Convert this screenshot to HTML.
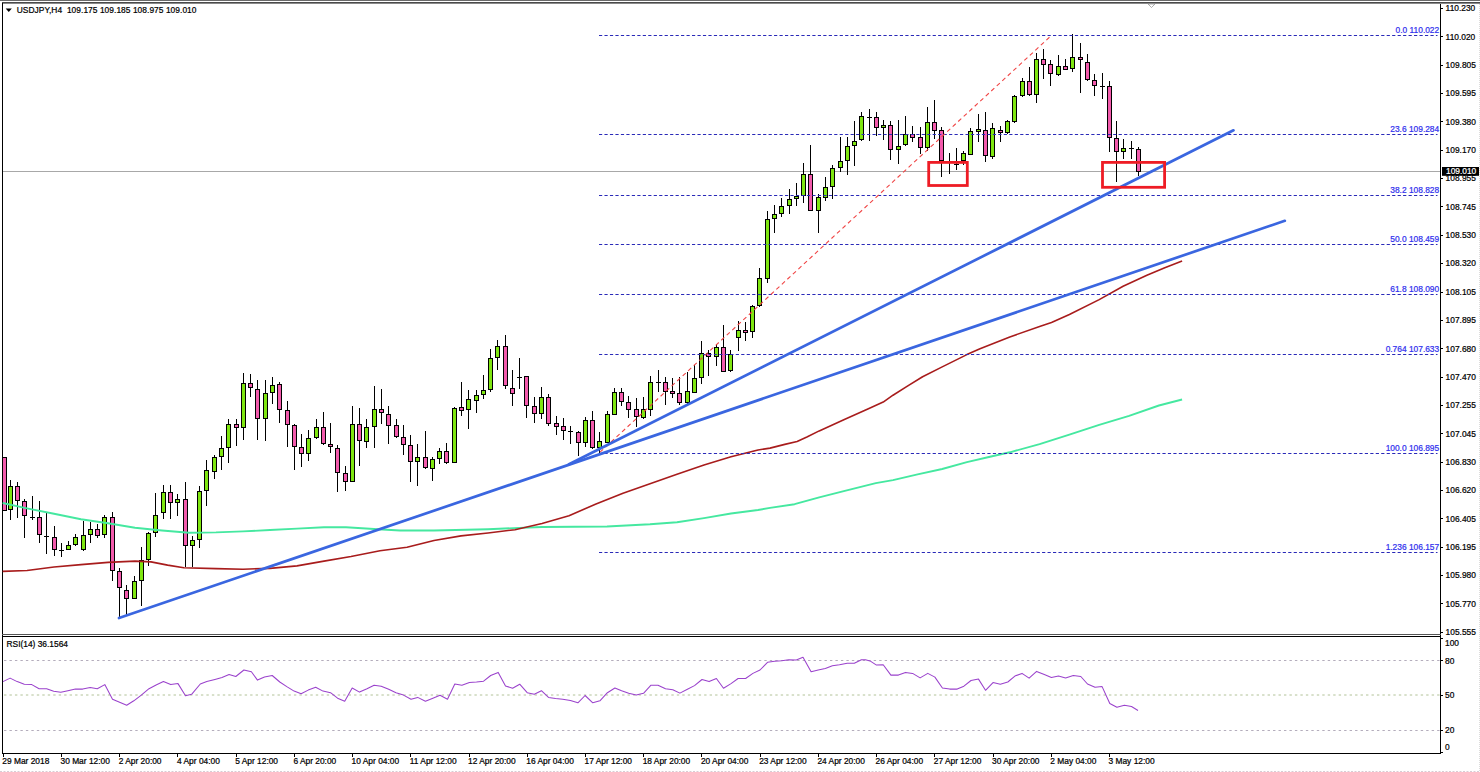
<!DOCTYPE html>
<html><head><meta charset="utf-8"><title>USDJPY H4</title>
<style>html,body{margin:0;padding:0;background:#fff;}body{width:1480px;height:772px;overflow:hidden;}svg{display:block;}text{font-family:"Liberation Sans",sans-serif;font-size:8.4px;stroke-width:0.22px;}</style>
</head><body>
<svg width="1480" height="772" viewBox="0 0 1480 772">
<rect x="0" y="0" width="1480" height="772" fill="#ffffff"/>
<g shape-rendering="crispEdges">
<rect x="0" y="0" width="1480" height="1" fill="#6a6a6a"/>
<rect x="2" y="2" width="1478" height="1" fill="#4a4a4a"/>
<rect x="2" y="3" width="1478" height="1" fill="#8a8a8a"/>
<rect x="2" y="3" width="1" height="751" fill="#000"/>
<rect x="1440" y="4" width="1" height="750" fill="#000"/>
<rect x="2" y="634" width="1439" height="1" fill="#555"/>
<rect x="2" y="636" width="1439" height="1" fill="#000"/>
<rect x="2" y="753" width="1439" height="1" fill="#000"/>
</g>
<line x1="0" y1="771.5" x2="1480" y2="771.5" stroke="#d8ccd4" stroke-width="1" stroke-dasharray="2 1.5"/>
<line x1="1479.5" y1="4" x2="1479.5" y2="772" stroke="#dcdcdc" stroke-width="1" stroke-dasharray="1 1"/>
<path d="M1148 4 L1155 4 L1151.5 7.5 Z" fill="none" stroke="#999" stroke-width="0.8"/>
<line x1="3" y1="171.5" x2="1440" y2="171.5" stroke="#a8a8a8" stroke-width="1" shape-rendering="crispEdges"/>
<g shape-rendering="crispEdges">
<rect x="3" y="457.0" width="3" height="54.1" fill="#F25AAC" stroke="none"/>
<rect x="5.5" y="457.0" width="1" height="54.1" fill="#000"/>
<rect x="3" y="457.0" width="3" height="1" fill="#000"/>
<rect x="3" y="510.1" width="3" height="1" fill="#000"/>
<rect x="10.0" y="480.3" width="1" height="40.1" fill="#000"/>
<rect x="8.5" y="486.0" width="4" height="23.7" fill="#7FE611" stroke="#000" stroke-width="1"/>
<rect x="17.0" y="482.2" width="1" height="35.5" fill="#000"/>
<rect x="15.5" y="486.0" width="4" height="14.9" fill="#F25AAC" stroke="#000" stroke-width="1"/>
<rect x="24.0" y="499.0" width="1" height="38.5" fill="#000"/>
<rect x="22.5" y="501.8" width="4" height="13.7" fill="#F25AAC" stroke="#000" stroke-width="1"/>
<rect x="32.0" y="495.9" width="1" height="24.5" fill="#000"/>
<rect x="30.0" y="516.7" width="5" height="1" fill="#000"/>
<rect x="39.0" y="501.3" width="1" height="41.3" fill="#000"/>
<rect x="37.5" y="517.0" width="4" height="17.0" fill="#F25AAC" stroke="#000" stroke-width="1"/>
<rect x="46.0" y="513.4" width="1" height="40.3" fill="#000"/>
<rect x="44.0" y="535.8" width="5" height="1" fill="#000"/>
<rect x="54.0" y="526.3" width="1" height="29.2" fill="#000"/>
<rect x="52.5" y="537.3" width="4" height="11.8" fill="#F25AAC" stroke="#000" stroke-width="1"/>
<rect x="61.0" y="543.3" width="1" height="13.3" fill="#000"/>
<rect x="59.0" y="549.8" width="5" height="1" fill="#000"/>
<rect x="68.0" y="541.4" width="1" height="8.9" fill="#000"/>
<rect x="66.5" y="545.0" width="4" height="4.8" fill="#7FE611" stroke="#000" stroke-width="1"/>
<rect x="75.0" y="534.0" width="1" height="12.4" fill="#000"/>
<rect x="73.5" y="537.3" width="4" height="6.7" fill="#7FE611" stroke="#000" stroke-width="1"/>
<rect x="83.0" y="521.1" width="1" height="29.6" fill="#000"/>
<rect x="81.5" y="535.6" width="4" height="14.2" fill="#7FE611" stroke="#000" stroke-width="1"/>
<rect x="90.0" y="521.8" width="1" height="21.0" fill="#000"/>
<rect x="88.5" y="529.8" width="4" height="4.8" fill="#7FE611" stroke="#000" stroke-width="1"/>
<rect x="97.0" y="523.5" width="1" height="14.5" fill="#000"/>
<rect x="95.5" y="529.8" width="4" height="5.3" fill="#F25AAC" stroke="#000" stroke-width="1"/>
<rect x="104.0" y="515.3" width="1" height="22.6" fill="#000"/>
<rect x="102.5" y="517.0" width="4" height="17.7" fill="#7FE611" stroke="#000" stroke-width="1"/>
<rect x="112.0" y="512.3" width="1" height="68.3" fill="#000"/>
<rect x="110.5" y="517.0" width="4" height="53.8" fill="#F25AAC" stroke="#000" stroke-width="1"/>
<rect x="119.0" y="568.3" width="1" height="49.2" fill="#000"/>
<rect x="117.5" y="571.8" width="4" height="15.8" fill="#F25AAC" stroke="#000" stroke-width="1"/>
<rect x="126.0" y="584.6" width="1" height="31.0" fill="#000"/>
<rect x="124.5" y="590.0" width="4" height="8.1" fill="#F25AAC" stroke="#000" stroke-width="1"/>
<rect x="134.0" y="576.4" width="1" height="22.9" fill="#000"/>
<rect x="132.5" y="581.8" width="4" height="16.3" fill="#7FE611" stroke="#000" stroke-width="1"/>
<rect x="141.0" y="546.8" width="1" height="59.0" fill="#000"/>
<rect x="139.5" y="560.8" width="4" height="20.0" fill="#7FE611" stroke="#000" stroke-width="1"/>
<rect x="148.0" y="532.1" width="1" height="33.4" fill="#000"/>
<rect x="146.5" y="533.8" width="4" height="25.4" fill="#7FE611" stroke="#000" stroke-width="1"/>
<rect x="155.0" y="493.1" width="1" height="43.6" fill="#000"/>
<rect x="153.5" y="515.1" width="4" height="17.7" fill="#7FE611" stroke="#000" stroke-width="1"/>
<rect x="163.0" y="485.1" width="1" height="34.0" fill="#000"/>
<rect x="161.5" y="492.9" width="4" height="19.7" fill="#7FE611" stroke="#000" stroke-width="1"/>
<rect x="170.0" y="485.1" width="1" height="34.0" fill="#000"/>
<rect x="168.5" y="492.9" width="4" height="9.9" fill="#F25AAC" stroke="#000" stroke-width="1"/>
<rect x="177.0" y="494.0" width="1" height="21.5" fill="#000"/>
<rect x="175.5" y="499.2" width="4" height="3.6" fill="#7FE611" stroke="#000" stroke-width="1"/>
<rect x="185.0" y="481.5" width="1" height="85.1" fill="#000"/>
<rect x="183.5" y="499.2" width="4" height="46.6" fill="#F25AAC" stroke="#000" stroke-width="1"/>
<rect x="192.0" y="535.9" width="1" height="30.7" fill="#000"/>
<rect x="190.5" y="540.8" width="4" height="5.0" fill="#7FE611" stroke="#000" stroke-width="1"/>
<rect x="199.0" y="485.6" width="1" height="62.5" fill="#000"/>
<rect x="197.5" y="491.8" width="4" height="47.9" fill="#7FE611" stroke="#000" stroke-width="1"/>
<rect x="206.0" y="460.1" width="1" height="45.4" fill="#000"/>
<rect x="204.5" y="470.1" width="4" height="20.8" fill="#7FE611" stroke="#000" stroke-width="1"/>
<rect x="214.0" y="455.2" width="1" height="23.7" fill="#000"/>
<rect x="212.5" y="457.6" width="4" height="13.4" fill="#7FE611" stroke="#000" stroke-width="1"/>
<rect x="221.0" y="436.1" width="1" height="33.4" fill="#000"/>
<rect x="219.5" y="448.9" width="4" height="7.7" fill="#7FE611" stroke="#000" stroke-width="1"/>
<rect x="228.0" y="418.5" width="1" height="44.0" fill="#000"/>
<rect x="226.5" y="424.9" width="4" height="22.9" fill="#7FE611" stroke="#000" stroke-width="1"/>
<rect x="236.0" y="419.3" width="1" height="26.4" fill="#000"/>
<rect x="234.5" y="424.9" width="4" height="2.5" fill="#F25AAC" stroke="#000" stroke-width="1"/>
<rect x="243.0" y="372.8" width="1" height="66.9" fill="#000"/>
<rect x="241.5" y="383.6" width="4" height="43.9" fill="#7FE611" stroke="#000" stroke-width="1"/>
<rect x="250.0" y="374.1" width="1" height="23.1" fill="#000"/>
<rect x="248.5" y="383.1" width="4" height="4.4" fill="#F25AAC" stroke="#000" stroke-width="1"/>
<rect x="257.0" y="380.4" width="1" height="59.3" fill="#000"/>
<rect x="255.5" y="389.0" width="4" height="29.5" fill="#F25AAC" stroke="#000" stroke-width="1"/>
<rect x="265.0" y="380.4" width="1" height="60.4" fill="#000"/>
<rect x="263.5" y="393.7" width="4" height="24.8" fill="#7FE611" stroke="#000" stroke-width="1"/>
<rect x="272.0" y="377.1" width="1" height="26.4" fill="#000"/>
<rect x="270.5" y="385.0" width="4" height="7.7" fill="#7FE611" stroke="#000" stroke-width="1"/>
<rect x="279.0" y="382.3" width="1" height="40.2" fill="#000"/>
<rect x="277.5" y="384.2" width="4" height="24.8" fill="#F25AAC" stroke="#000" stroke-width="1"/>
<rect x="287.0" y="401.3" width="1" height="45.7" fill="#000"/>
<rect x="285.5" y="410.0" width="4" height="14.8" fill="#F25AAC" stroke="#000" stroke-width="1"/>
<rect x="294.0" y="424.4" width="1" height="45.1" fill="#000"/>
<rect x="292.5" y="425.8" width="4" height="20.8" fill="#F25AAC" stroke="#000" stroke-width="1"/>
<rect x="301.0" y="434.0" width="1" height="32.9" fill="#000"/>
<rect x="299.5" y="447.0" width="4" height="6.9" fill="#F25AAC" stroke="#000" stroke-width="1"/>
<rect x="308.0" y="429.9" width="1" height="31.3" fill="#000"/>
<rect x="306.5" y="438.0" width="4" height="15.9" fill="#7FE611" stroke="#000" stroke-width="1"/>
<rect x="316.0" y="418.5" width="1" height="20.4" fill="#000"/>
<rect x="314.5" y="427.7" width="4" height="9.3" fill="#7FE611" stroke="#000" stroke-width="1"/>
<rect x="323.0" y="411.7" width="1" height="33.4" fill="#000"/>
<rect x="321.5" y="427.7" width="4" height="15.6" fill="#F25AAC" stroke="#000" stroke-width="1"/>
<rect x="330.0" y="423.0" width="1" height="29.7" fill="#000"/>
<rect x="328.5" y="444.4" width="4" height="2.5" fill="#F25AAC" stroke="#000" stroke-width="1"/>
<rect x="337.0" y="444.6" width="1" height="46.9" fill="#000"/>
<rect x="335.5" y="448.8" width="4" height="23.2" fill="#F25AAC" stroke="#000" stroke-width="1"/>
<rect x="345.0" y="466.2" width="1" height="24.7" fill="#000"/>
<rect x="343.5" y="473.7" width="4" height="7.8" fill="#F25AAC" stroke="#000" stroke-width="1"/>
<rect x="352.0" y="406.4" width="1" height="76.0" fill="#000"/>
<rect x="350.5" y="424.8" width="4" height="56.7" fill="#7FE611" stroke="#000" stroke-width="1"/>
<rect x="359.0" y="408.2" width="1" height="57.3" fill="#000"/>
<rect x="357.5" y="424.8" width="4" height="16.0" fill="#F25AAC" stroke="#000" stroke-width="1"/>
<rect x="366.0" y="418.8" width="1" height="29.5" fill="#000"/>
<rect x="364.5" y="427.4" width="4" height="13.8" fill="#7FE611" stroke="#000" stroke-width="1"/>
<rect x="374.0" y="386.2" width="1" height="61.7" fill="#000"/>
<rect x="372.5" y="409.8" width="4" height="16.6" fill="#7FE611" stroke="#000" stroke-width="1"/>
<rect x="381.0" y="389.0" width="1" height="34.6" fill="#000"/>
<rect x="379.5" y="409.8" width="4" height="2.7" fill="#F25AAC" stroke="#000" stroke-width="1"/>
<rect x="388.0" y="406.0" width="1" height="37.9" fill="#000"/>
<rect x="386.5" y="414.7" width="4" height="10.7" fill="#F25AAC" stroke="#000" stroke-width="1"/>
<rect x="396.0" y="418.6" width="1" height="19.4" fill="#000"/>
<rect x="394.5" y="425.9" width="4" height="10.9" fill="#F25AAC" stroke="#000" stroke-width="1"/>
<rect x="403.0" y="424.7" width="1" height="30.2" fill="#000"/>
<rect x="401.5" y="437.8" width="4" height="6.9" fill="#F25AAC" stroke="#000" stroke-width="1"/>
<rect x="410.0" y="435.1" width="1" height="46.9" fill="#000"/>
<rect x="408.5" y="445.1" width="4" height="16.6" fill="#F25AAC" stroke="#000" stroke-width="1"/>
<rect x="417.0" y="444.1" width="1" height="42.3" fill="#000"/>
<rect x="415.5" y="457.6" width="4" height="4.1" fill="#7FE611" stroke="#000" stroke-width="1"/>
<rect x="425.0" y="430.7" width="1" height="38.1" fill="#000"/>
<rect x="423.5" y="457.2" width="4" height="10.5" fill="#F25AAC" stroke="#000" stroke-width="1"/>
<rect x="432.0" y="456.7" width="1" height="23.8" fill="#000"/>
<rect x="430.5" y="459.8" width="4" height="9.1" fill="#7FE611" stroke="#000" stroke-width="1"/>
<rect x="439.0" y="448.3" width="1" height="16.1" fill="#000"/>
<rect x="437.5" y="451.7" width="4" height="7.2" fill="#7FE611" stroke="#000" stroke-width="1"/>
<rect x="446.0" y="442.8" width="1" height="20.9" fill="#000"/>
<rect x="444.5" y="451.7" width="4" height="10.7" fill="#F25AAC" stroke="#000" stroke-width="1"/>
<rect x="454.0" y="407.1" width="1" height="56.2" fill="#000"/>
<rect x="452.5" y="408.1" width="4" height="54.3" fill="#7FE611" stroke="#000" stroke-width="1"/>
<rect x="461.0" y="381.8" width="1" height="34.1" fill="#000"/>
<rect x="459.5" y="407.9" width="4" height="2.2" fill="#F25AAC" stroke="#000" stroke-width="1"/>
<rect x="468.0" y="389.9" width="1" height="38.6" fill="#000"/>
<rect x="466.5" y="399.9" width="4" height="10.0" fill="#7FE611" stroke="#000" stroke-width="1"/>
<rect x="476.0" y="389.5" width="1" height="23.1" fill="#000"/>
<rect x="474.5" y="395.5" width="4" height="4.9" fill="#7FE611" stroke="#000" stroke-width="1"/>
<rect x="483.0" y="374.7" width="1" height="24.0" fill="#000"/>
<rect x="481.5" y="390.0" width="4" height="4.5" fill="#7FE611" stroke="#000" stroke-width="1"/>
<rect x="490.0" y="349.2" width="1" height="42.5" fill="#000"/>
<rect x="488.5" y="358.5" width="4" height="30.5" fill="#7FE611" stroke="#000" stroke-width="1"/>
<rect x="497.0" y="340.3" width="1" height="29.7" fill="#000"/>
<rect x="495.5" y="346.5" width="4" height="10.9" fill="#7FE611" stroke="#000" stroke-width="1"/>
<rect x="505.0" y="335.0" width="1" height="54.0" fill="#000"/>
<rect x="503.5" y="346.5" width="4" height="39.1" fill="#F25AAC" stroke="#000" stroke-width="1"/>
<rect x="512.0" y="370.2" width="1" height="35.3" fill="#000"/>
<rect x="510.5" y="388.1" width="4" height="5.8" fill="#F25AAC" stroke="#000" stroke-width="1"/>
<rect x="519.0" y="358.1" width="1" height="30.8" fill="#000"/>
<rect x="517.0" y="376.8" width="5" height="1" fill="#000"/>
<rect x="526.0" y="375.5" width="1" height="42.1" fill="#000"/>
<rect x="524.5" y="376.7" width="4" height="29.2" fill="#F25AAC" stroke="#000" stroke-width="1"/>
<rect x="534.0" y="397.1" width="1" height="25.8" fill="#000"/>
<rect x="532.5" y="406.9" width="4" height="6.3" fill="#F25AAC" stroke="#000" stroke-width="1"/>
<rect x="541.0" y="386.8" width="1" height="32.4" fill="#000"/>
<rect x="539.5" y="397.6" width="4" height="15.5" fill="#7FE611" stroke="#000" stroke-width="1"/>
<rect x="548.0" y="393.8" width="1" height="32.6" fill="#000"/>
<rect x="546.5" y="397.6" width="4" height="25.4" fill="#F25AAC" stroke="#000" stroke-width="1"/>
<rect x="556.0" y="416.3" width="1" height="18.3" fill="#000"/>
<rect x="554.5" y="423.9" width="4" height="2.2" fill="#F25AAC" stroke="#000" stroke-width="1"/>
<rect x="563.0" y="418.0" width="1" height="22.0" fill="#000"/>
<rect x="561.5" y="426.7" width="4" height="4.1" fill="#F25AAC" stroke="#000" stroke-width="1"/>
<rect x="570.0" y="426.4" width="1" height="17.6" fill="#000"/>
<rect x="568.0" y="431.2" width="5" height="1" fill="#000"/>
<rect x="578.0" y="431.3" width="1" height="24.2" fill="#000"/>
<rect x="576.5" y="432.2" width="4" height="10.7" fill="#F25AAC" stroke="#000" stroke-width="1"/>
<rect x="585.0" y="416.9" width="1" height="29.7" fill="#000"/>
<rect x="583.5" y="420.3" width="4" height="22.6" fill="#7FE611" stroke="#000" stroke-width="1"/>
<rect x="592.0" y="411.0" width="1" height="37.5" fill="#000"/>
<rect x="590.5" y="420.3" width="4" height="27.0" fill="#F25AAC" stroke="#000" stroke-width="1"/>
<rect x="599.0" y="432.4" width="1" height="20.5" fill="#000"/>
<rect x="597.5" y="441.7" width="4" height="5.6" fill="#7FE611" stroke="#000" stroke-width="1"/>
<rect x="607.0" y="411.0" width="1" height="32.4" fill="#000"/>
<rect x="605.5" y="414.8" width="4" height="27.4" fill="#7FE611" stroke="#000" stroke-width="1"/>
<rect x="614.0" y="388.3" width="1" height="27.1" fill="#000"/>
<rect x="612.5" y="392.8" width="4" height="21.5" fill="#7FE611" stroke="#000" stroke-width="1"/>
<rect x="621.0" y="387.9" width="1" height="17.6" fill="#000"/>
<rect x="619.5" y="392.8" width="4" height="8.3" fill="#F25AAC" stroke="#000" stroke-width="1"/>
<rect x="628.0" y="396.0" width="1" height="21.6" fill="#000"/>
<rect x="626.5" y="402.0" width="4" height="7.2" fill="#F25AAC" stroke="#000" stroke-width="1"/>
<rect x="636.0" y="398.2" width="1" height="28.6" fill="#000"/>
<rect x="634.5" y="409.7" width="4" height="7.2" fill="#F25AAC" stroke="#000" stroke-width="1"/>
<rect x="643.0" y="397.1" width="1" height="21.4" fill="#000"/>
<rect x="641.5" y="409.7" width="4" height="7.4" fill="#7FE611" stroke="#000" stroke-width="1"/>
<rect x="650.0" y="376.2" width="1" height="40.1" fill="#000"/>
<rect x="648.5" y="382.6" width="4" height="27.2" fill="#7FE611" stroke="#000" stroke-width="1"/>
<rect x="658.0" y="370.2" width="1" height="21.4" fill="#000"/>
<rect x="656.0" y="381.8" width="5" height="1" fill="#000"/>
<rect x="665.0" y="376.7" width="1" height="27.8" fill="#000"/>
<rect x="663.5" y="382.6" width="4" height="8.4" fill="#F25AAC" stroke="#000" stroke-width="1"/>
<rect x="672.0" y="378.4" width="1" height="19.4" fill="#000"/>
<rect x="670.5" y="391.2" width="4" height="2.2" fill="#F25AAC" stroke="#000" stroke-width="1"/>
<rect x="679.0" y="376.7" width="1" height="27.8" fill="#000"/>
<rect x="677.5" y="393.7" width="4" height="8.3" fill="#F25AAC" stroke="#000" stroke-width="1"/>
<rect x="687.0" y="372.0" width="1" height="34.2" fill="#000"/>
<rect x="685.5" y="391.5" width="4" height="10.8" fill="#7FE611" stroke="#000" stroke-width="1"/>
<rect x="694.0" y="364.6" width="1" height="28.6" fill="#000"/>
<rect x="692.5" y="378.1" width="4" height="14.7" fill="#7FE611" stroke="#000" stroke-width="1"/>
<rect x="701.0" y="341.4" width="1" height="42.4" fill="#000"/>
<rect x="699.5" y="353.1" width="4" height="23.9" fill="#7FE611" stroke="#000" stroke-width="1"/>
<rect x="708.0" y="349.8" width="1" height="26.1" fill="#000"/>
<rect x="706.5" y="353.1" width="4" height="3.7" fill="#F25AAC" stroke="#000" stroke-width="1"/>
<rect x="716.0" y="344.2" width="1" height="21.6" fill="#000"/>
<rect x="714.5" y="347.3" width="4" height="9.6" fill="#7FE611" stroke="#000" stroke-width="1"/>
<rect x="723.0" y="325.4" width="1" height="46.3" fill="#000"/>
<rect x="721.5" y="347.3" width="4" height="23.9" fill="#F25AAC" stroke="#000" stroke-width="1"/>
<rect x="730.0" y="350.1" width="1" height="21.6" fill="#000"/>
<rect x="728.5" y="354.0" width="4" height="16.7" fill="#7FE611" stroke="#000" stroke-width="1"/>
<rect x="738.0" y="320.8" width="1" height="30.3" fill="#000"/>
<rect x="736.5" y="330.9" width="4" height="6.1" fill="#7FE611" stroke="#000" stroke-width="1"/>
<rect x="745.0" y="321.5" width="1" height="19.0" fill="#000"/>
<rect x="743.5" y="330.2" width="4" height="2.2" fill="#F25AAC" stroke="#000" stroke-width="1"/>
<rect x="752.0" y="304.7" width="1" height="32.8" fill="#000"/>
<rect x="750.5" y="306.8" width="4" height="24.8" fill="#7FE611" stroke="#000" stroke-width="1"/>
<rect x="759.0" y="268.4" width="1" height="38.4" fill="#000"/>
<rect x="757.5" y="278.3" width="4" height="27.3" fill="#7FE611" stroke="#000" stroke-width="1"/>
<rect x="767.0" y="210.5" width="1" height="72.2" fill="#000"/>
<rect x="765.5" y="219.9" width="4" height="58.1" fill="#7FE611" stroke="#000" stroke-width="1"/>
<rect x="774.0" y="205.1" width="1" height="27.6" fill="#000"/>
<rect x="772.5" y="214.2" width="4" height="4.7" fill="#7FE611" stroke="#000" stroke-width="1"/>
<rect x="781.0" y="197.7" width="1" height="19.7" fill="#000"/>
<rect x="779.5" y="206.4" width="4" height="6.9" fill="#7FE611" stroke="#000" stroke-width="1"/>
<rect x="789.0" y="189.1" width="1" height="24.6" fill="#000"/>
<rect x="787.5" y="199.0" width="4" height="6.4" fill="#7FE611" stroke="#000" stroke-width="1"/>
<rect x="796.0" y="183.0" width="1" height="22.9" fill="#000"/>
<rect x="794.5" y="196.1" width="4" height="2.2" fill="#7FE611" stroke="#000" stroke-width="1"/>
<rect x="803.0" y="163.3" width="1" height="39.9" fill="#000"/>
<rect x="801.5" y="174.1" width="4" height="21.4" fill="#7FE611" stroke="#000" stroke-width="1"/>
<rect x="810.0" y="145.3" width="1" height="65.3" fill="#000"/>
<rect x="808.5" y="174.1" width="4" height="35.9" fill="#F25AAC" stroke="#000" stroke-width="1"/>
<rect x="818.0" y="194.0" width="1" height="39.4" fill="#000"/>
<rect x="816.5" y="197.7" width="4" height="12.3" fill="#7FE611" stroke="#000" stroke-width="1"/>
<rect x="825.0" y="177.3" width="1" height="24.1" fill="#000"/>
<rect x="823.5" y="187.6" width="4" height="9.6" fill="#7FE611" stroke="#000" stroke-width="1"/>
<rect x="832.0" y="164.5" width="1" height="34.0" fill="#000"/>
<rect x="830.5" y="168.7" width="4" height="18.0" fill="#7FE611" stroke="#000" stroke-width="1"/>
<rect x="840.0" y="136.9" width="1" height="35.5" fill="#000"/>
<rect x="838.5" y="161.3" width="4" height="6.4" fill="#7FE611" stroke="#000" stroke-width="1"/>
<rect x="847.0" y="137.4" width="1" height="37.7" fill="#000"/>
<rect x="845.5" y="146.0" width="4" height="14.3" fill="#7FE611" stroke="#000" stroke-width="1"/>
<rect x="854.0" y="121.1" width="1" height="44.5" fill="#000"/>
<rect x="852.5" y="141.1" width="4" height="4.0" fill="#7FE611" stroke="#000" stroke-width="1"/>
<rect x="861.0" y="111.8" width="1" height="29.1" fill="#000"/>
<rect x="859.5" y="116.9" width="4" height="22.9" fill="#7FE611" stroke="#000" stroke-width="1"/>
<rect x="869.0" y="109.2" width="1" height="31.3" fill="#000"/>
<rect x="867.0" y="116.6" width="5" height="1" fill="#000"/>
<rect x="876.0" y="111.7" width="1" height="23.9" fill="#000"/>
<rect x="874.5" y="117.6" width="4" height="9.4" fill="#F25AAC" stroke="#000" stroke-width="1"/>
<rect x="883.0" y="119.6" width="1" height="19.9" fill="#000"/>
<rect x="881.5" y="125.1" width="4" height="2.2" fill="#7FE611" stroke="#000" stroke-width="1"/>
<rect x="890.0" y="121.3" width="1" height="38.2" fill="#000"/>
<rect x="888.5" y="125.4" width="4" height="23.9" fill="#F25AAC" stroke="#000" stroke-width="1"/>
<rect x="898.0" y="119.5" width="1" height="44.2" fill="#000"/>
<rect x="896.5" y="146.1" width="4" height="3.3" fill="#7FE611" stroke="#000" stroke-width="1"/>
<rect x="905.0" y="116.1" width="1" height="29.5" fill="#000"/>
<rect x="903.5" y="134.2" width="4" height="10.5" fill="#7FE611" stroke="#000" stroke-width="1"/>
<rect x="912.0" y="125.6" width="1" height="16.0" fill="#000"/>
<rect x="910.5" y="134.7" width="4" height="2.3" fill="#F25AAC" stroke="#000" stroke-width="1"/>
<rect x="920.0" y="127.3" width="1" height="26.4" fill="#000"/>
<rect x="918.5" y="137.5" width="4" height="10.4" fill="#F25AAC" stroke="#000" stroke-width="1"/>
<rect x="927.0" y="107.1" width="1" height="43.7" fill="#000"/>
<rect x="925.5" y="122.8" width="4" height="25.1" fill="#7FE611" stroke="#000" stroke-width="1"/>
<rect x="934.0" y="100.3" width="1" height="38.6" fill="#000"/>
<rect x="932.5" y="122.8" width="4" height="8.0" fill="#F25AAC" stroke="#000" stroke-width="1"/>
<rect x="941.0" y="126.6" width="1" height="49.9" fill="#000"/>
<rect x="939.5" y="130.8" width="4" height="29.9" fill="#F25AAC" stroke="#000" stroke-width="1"/>
<rect x="949.0" y="153.1" width="1" height="20.9" fill="#000"/>
<rect x="947.0" y="160.7" width="5" height="1" fill="#000"/>
<rect x="956.0" y="148.1" width="1" height="21.7" fill="#000"/>
<rect x="954.0" y="163.9" width="5" height="1" fill="#000"/>
<rect x="963.0" y="151.3" width="1" height="13.5" fill="#000"/>
<rect x="961.5" y="153.9" width="4" height="6.8" fill="#7FE611" stroke="#000" stroke-width="1"/>
<rect x="970.0" y="128.2" width="1" height="26.6" fill="#000"/>
<rect x="968.5" y="131.5" width="4" height="22.5" fill="#7FE611" stroke="#000" stroke-width="1"/>
<rect x="978.0" y="114.2" width="1" height="27.5" fill="#000"/>
<rect x="976.5" y="129.4" width="4" height="2.2" fill="#7FE611" stroke="#000" stroke-width="1"/>
<rect x="985.0" y="111.7" width="1" height="50.0" fill="#000"/>
<rect x="983.5" y="130.0" width="4" height="25.5" fill="#F25AAC" stroke="#000" stroke-width="1"/>
<rect x="992.0" y="122.5" width="1" height="36.3" fill="#000"/>
<rect x="990.5" y="128.7" width="4" height="27.4" fill="#7FE611" stroke="#000" stroke-width="1"/>
<rect x="1000.0" y="126.0" width="1" height="15.5" fill="#000"/>
<rect x="998.5" y="130.0" width="4" height="2.3" fill="#F25AAC" stroke="#000" stroke-width="1"/>
<rect x="1007.0" y="119.6" width="1" height="14.0" fill="#000"/>
<rect x="1005.5" y="121.9" width="4" height="10.2" fill="#7FE611" stroke="#000" stroke-width="1"/>
<rect x="1014.0" y="94.6" width="1" height="28.7" fill="#000"/>
<rect x="1012.5" y="96.7" width="4" height="24.6" fill="#7FE611" stroke="#000" stroke-width="1"/>
<rect x="1022.0" y="78.3" width="1" height="18.7" fill="#000"/>
<rect x="1020.5" y="81.8" width="4" height="13.9" fill="#7FE611" stroke="#000" stroke-width="1"/>
<rect x="1029.0" y="66.6" width="1" height="29.8" fill="#000"/>
<rect x="1027.5" y="81.8" width="4" height="12.3" fill="#F25AAC" stroke="#000" stroke-width="1"/>
<rect x="1036.0" y="53.3" width="1" height="50.1" fill="#000"/>
<rect x="1034.5" y="59.4" width="4" height="34.7" fill="#7FE611" stroke="#000" stroke-width="1"/>
<rect x="1043.0" y="49.1" width="1" height="30.3" fill="#000"/>
<rect x="1041.5" y="59.4" width="4" height="4.8" fill="#F25AAC" stroke="#000" stroke-width="1"/>
<rect x="1050.0" y="60.3" width="1" height="26.1" fill="#000"/>
<rect x="1048.5" y="64.8" width="4" height="9.0" fill="#F25AAC" stroke="#000" stroke-width="1"/>
<rect x="1058.0" y="55.4" width="1" height="20.1" fill="#000"/>
<rect x="1056.5" y="66.0" width="4" height="8.3" fill="#7FE611" stroke="#000" stroke-width="1"/>
<rect x="1065.0" y="58.5" width="1" height="11.7" fill="#000"/>
<rect x="1063.5" y="66.7" width="4" height="2.3" fill="#F25AAC" stroke="#000" stroke-width="1"/>
<rect x="1072.0" y="33.5" width="1" height="38.9" fill="#000"/>
<rect x="1070.5" y="57.8" width="4" height="11.1" fill="#7FE611" stroke="#000" stroke-width="1"/>
<rect x="1080.0" y="43.3" width="1" height="50.1" fill="#000"/>
<rect x="1078.5" y="57.7" width="4" height="2.2" fill="#F25AAC" stroke="#000" stroke-width="1"/>
<rect x="1087.0" y="54.3" width="1" height="26.3" fill="#000"/>
<rect x="1085.5" y="62.0" width="4" height="17.4" fill="#F25AAC" stroke="#000" stroke-width="1"/>
<rect x="1094.0" y="74.3" width="1" height="22.1" fill="#000"/>
<rect x="1092.5" y="80.0" width="4" height="5.3" fill="#F25AAC" stroke="#000" stroke-width="1"/>
<rect x="1102.0" y="73.2" width="1" height="25.4" fill="#000"/>
<rect x="1100.0" y="85.5" width="5" height="1" fill="#000"/>
<rect x="1109.0" y="81.3" width="1" height="70.4" fill="#000"/>
<rect x="1107.5" y="86.2" width="4" height="51.0" fill="#F25AAC" stroke="#000" stroke-width="1"/>
<rect x="1116.0" y="121.4" width="1" height="60.2" fill="#000"/>
<rect x="1114.5" y="138.7" width="4" height="13.2" fill="#F25AAC" stroke="#000" stroke-width="1"/>
<rect x="1123.0" y="139.4" width="1" height="19.4" fill="#000"/>
<rect x="1121.5" y="148.0" width="4" height="3.9" fill="#7FE611" stroke="#000" stroke-width="1"/>
<rect x="1131.0" y="141.2" width="1" height="18.2" fill="#000"/>
<rect x="1129.0" y="148.0" width="5" height="1" fill="#000"/>
<rect x="1138.0" y="147.1" width="1" height="28.7" fill="#000"/>
<rect x="1136.5" y="149.9" width="4" height="21.1" fill="#F25AAC" stroke="#000" stroke-width="1"/>
</g>
<polyline fill="none" stroke="#45E8A0" stroke-width="1.9" stroke-linejoin="round"  points="2.7,503.0 27.0,508.4 54.0,513.8 81.0,519.2 108.0,523.2 135.0,527.8 162.0,530.5 189.0,532.7 216.0,532.4 243.0,531.4 270.0,530.0 297.0,528.6 324.0,527.3 346.0,527.3 378.0,529.2 400.0,530.5 434.0,530.5 488.0,529.2 542.0,527.0 607.0,526.5 650.0,524.3 677.0,522.2 704.0,518.1 731.0,513.5 758.0,510.0 770.0,507.9 794.6,504.2 819.2,497.3 843.8,491.2 875.8,483.1 893.0,480.1 917.6,474.4 942.2,469.0 966.9,462.1 990.0,456.7 1009.8,452.3 1039.6,444.2 1069.4,434.7 1099.2,424.8 1129.1,415.9 1158.9,405.5 1182.1,399.5"/>
<polyline fill="none" stroke="#A81C1C" stroke-width="1.6" stroke-linejoin="round"  points="2.7,571.4 27.0,570.5 54.0,567.0 81.0,564.6 108.0,562.4 135.0,561.1 151.0,561.9 167.6,565.1 183.8,567.8 216.0,568.6 243.0,569.2 270.0,568.4 297.0,565.9 324.0,561.1 351.0,556.5 380.0,550.8 407.0,547.3 434.0,540.5 461.0,535.9 488.0,533.0 515.0,529.7 542.0,523.5 569.0,515.7 596.0,504.0 623.0,493.2 650.0,483.8 677.0,474.3 704.0,464.9 731.0,456.8 758.0,450.0 770.0,448.1 784.8,444.4 797.1,441.5 806.9,437.0 819.2,430.9 843.8,419.8 868.4,408.7 883.2,402.1 893.0,395.2 907.8,385.9 922.6,376.8 942.2,366.9 966.9,354.6 980.0,348.8 1009.8,336.9 1039.6,326.5 1051.5,322.6 1069.4,314.5 1099.2,299.6 1123.1,286.2 1146.9,275.2 1164.8,267.7 1182.1,260.9"/>
<line x1="599" y1="35.5" x2="1437.5" y2="35.5" stroke="#2A2AB8" stroke-width="1.1" stroke-dasharray="3.2 2.27"/>
<text x="1439.2" y="32.9" text-anchor="end" fill="#3030EE" stroke="#3030EE">0.0 110.022</text>
<line x1="599" y1="134.5" x2="1437.5" y2="134.5" stroke="#2A2AB8" stroke-width="1.1" stroke-dasharray="3.2 2.27"/>
<text x="1439.2" y="131.9" text-anchor="end" fill="#3030EE" stroke="#3030EE">23.6 109.284</text>
<line x1="599" y1="195.5" x2="1437.5" y2="195.5" stroke="#2A2AB8" stroke-width="1.1" stroke-dasharray="3.2 2.27"/>
<text x="1439.2" y="192.9" text-anchor="end" fill="#3030EE" stroke="#3030EE">38.2 108.828</text>
<line x1="599" y1="244.5" x2="1437.5" y2="244.5" stroke="#2A2AB8" stroke-width="1.1" stroke-dasharray="3.2 2.27"/>
<text x="1439.2" y="241.9" text-anchor="end" fill="#3030EE" stroke="#3030EE">50.0 108.459</text>
<line x1="599" y1="294.5" x2="1437.5" y2="294.5" stroke="#2A2AB8" stroke-width="1.1" stroke-dasharray="3.2 2.27"/>
<text x="1439.2" y="291.9" text-anchor="end" fill="#3030EE" stroke="#3030EE">61.8 108.090</text>
<line x1="599" y1="354.5" x2="1437.5" y2="354.5" stroke="#2A2AB8" stroke-width="1.1" stroke-dasharray="3.2 2.27"/>
<text x="1439.2" y="351.9" text-anchor="end" fill="#3030EE" stroke="#3030EE">0.764 107.633</text>
<line x1="599" y1="453.5" x2="1437.5" y2="453.5" stroke="#2A2AB8" stroke-width="1.1" stroke-dasharray="3.2 2.27"/>
<text x="1439.2" y="450.9" text-anchor="end" fill="#3030EE" stroke="#3030EE">100.0 106.895</text>
<line x1="599" y1="552.5" x2="1437.5" y2="552.5" stroke="#2A2AB8" stroke-width="1.1" stroke-dasharray="3.2 2.27"/>
<text x="1439.2" y="549.9" text-anchor="end" fill="#3030EE" stroke="#3030EE">1.236 106.157</text>
<line x1="600" y1="452.2" x2="1050.5" y2="36.3" stroke="#F04444" stroke-width="1.1" stroke-dasharray="4.2 3.3"/>
<line x1="119" y1="618" x2="1284.8" y2="220.8" stroke="#3A66E0" stroke-width="2.7" stroke-linecap="round"/>
<line x1="569" y1="464.3" x2="1233.5" y2="130.3" stroke="#3A66E0" stroke-width="2.7" stroke-linecap="round"/>
<rect x="928.7" y="162.4" width="38.6" height="23.1" fill="none" stroke="#EE1C25" stroke-width="2.8"/>
<rect x="1102.5" y="162.4" width="62.1" height="24.9" fill="none" stroke="#EE1C25" stroke-width="2.8"/>
<path d="M5.7 8.4 L11.8 8.4 L8.75 12 Z" fill="#000"/>
<text x="16.7" y="12.8" fill="#000" stroke="#000" xml:space="preserve" textLength="179.8" lengthAdjust="spacing">USDJPY,H4  109.175 109.185 108.975 109.010</text>
<g shape-rendering="crispEdges">
<rect x="1441" y="8" width="2" height="1" fill="#000"/>
<rect x="1441" y="36" width="2" height="1" fill="#000"/>
<rect x="1441" y="65" width="2" height="1" fill="#000"/>
<rect x="1441" y="93" width="2" height="1" fill="#000"/>
<rect x="1441" y="121" width="2" height="1" fill="#000"/>
<rect x="1441" y="150" width="2" height="1" fill="#000"/>
<rect x="1441" y="178" width="2" height="1" fill="#000"/>
<rect x="1441" y="206" width="2" height="1" fill="#000"/>
<rect x="1441" y="235" width="2" height="1" fill="#000"/>
<rect x="1441" y="263" width="2" height="1" fill="#000"/>
<rect x="1441" y="292" width="2" height="1" fill="#000"/>
<rect x="1441" y="320" width="2" height="1" fill="#000"/>
<rect x="1441" y="348" width="2" height="1" fill="#000"/>
<rect x="1441" y="377" width="2" height="1" fill="#000"/>
<rect x="1441" y="405" width="2" height="1" fill="#000"/>
<rect x="1441" y="433" width="2" height="1" fill="#000"/>
<rect x="1441" y="462" width="2" height="1" fill="#000"/>
<rect x="1441" y="490" width="2" height="1" fill="#000"/>
<rect x="1441" y="518" width="2" height="1" fill="#000"/>
<rect x="1441" y="547" width="2" height="1" fill="#000"/>
<rect x="1441" y="575" width="2" height="1" fill="#000"/>
<rect x="1441" y="603" width="2" height="1" fill="#000"/>
<rect x="1441" y="632" width="2" height="1" fill="#000"/>
</g>
<text x="1445.6" y="11.3" fill="#000" stroke="#000">110.230</text>
<text x="1445.6" y="39.6" fill="#000" stroke="#000">110.020</text>
<text x="1445.6" y="68.0" fill="#000" stroke="#000">109.805</text>
<text x="1445.6" y="96.4" fill="#000" stroke="#000">109.595</text>
<text x="1445.6" y="124.7" fill="#000" stroke="#000">109.380</text>
<text x="1445.6" y="153.1" fill="#000" stroke="#000">109.170</text>
<text x="1445.6" y="181.4" fill="#000" stroke="#000">108.955</text>
<text x="1445.6" y="209.8" fill="#000" stroke="#000">108.745</text>
<text x="1445.6" y="238.1" fill="#000" stroke="#000">108.530</text>
<text x="1445.6" y="266.4" fill="#000" stroke="#000">108.320</text>
<text x="1445.6" y="294.8" fill="#000" stroke="#000">108.105</text>
<text x="1445.6" y="323.2" fill="#000" stroke="#000">107.895</text>
<text x="1445.6" y="351.5" fill="#000" stroke="#000">107.680</text>
<text x="1445.6" y="379.9" fill="#000" stroke="#000">107.470</text>
<text x="1445.6" y="408.2" fill="#000" stroke="#000">107.255</text>
<text x="1445.6" y="436.6" fill="#000" stroke="#000">107.045</text>
<text x="1445.6" y="464.9" fill="#000" stroke="#000">106.830</text>
<text x="1445.6" y="493.3" fill="#000" stroke="#000">106.620</text>
<text x="1445.6" y="521.6" fill="#000" stroke="#000">106.405</text>
<text x="1445.6" y="549.9" fill="#000" stroke="#000">106.195</text>
<text x="1445.6" y="578.3" fill="#000" stroke="#000">105.980</text>
<text x="1445.6" y="606.6" fill="#000" stroke="#000">105.770</text>
<text x="1445.6" y="635.0" fill="#000" stroke="#000">105.555</text>
<rect x="1442" y="167" width="37" height="8.8" fill="#000"/>
<text x="1446" y="174.4" fill="#fff" stroke="#fff" stroke-width="0.25">109.010</text>
<line x1="4" y1="660.5" x2="1440" y2="660.5" stroke="#b4adbc" stroke-width="1" stroke-dasharray="2.4 3.07"/>
<line x1="4" y1="695.0" x2="1440" y2="695.0" stroke="#b2c298" stroke-width="1" stroke-dasharray="2.4 3.07"/>
<line x1="4" y1="730.5" x2="1440" y2="730.5" stroke="#b4adbc" stroke-width="1" stroke-dasharray="2.4 3.07"/>
<polyline fill="none" stroke="#9A42CC" stroke-width="1.05" stroke-linejoin="round"  points="3.0,681.6 10.1,678.1 17.2,681.6 24.3,684.2 31.8,684.6 39.1,688.7 46.6,688.7 53.7,691.3 60.8,692.3 67.9,690.7 75.4,689.1 82.7,689.1 90.2,687.6 97.3,688.7 104.8,684.6 112.5,699.2 119.6,702.2 126.7,705.3 133.8,700.8 141.3,695.1 149.0,688.7 156.1,685.0 163.4,681.6 170.7,684.6 178.0,683.6 185.5,695.7 191.6,694.3 200.3,684.0 206.8,681.6 214.9,679.5 222.0,677.5 229.1,674.5 235.8,676.5 243.9,670.0 251.4,671.8 257.5,680.1 264.5,676.9 272.2,675.5 279.8,682.0 286.8,686.6 294.1,691.1 301.1,693.7 308.2,690.1 315.7,687.2 323.0,691.1 330.5,692.7 337.6,698.2 344.7,701.2 352.2,688.0 359.5,692.1 367.0,688.7 374.1,685.2 381.2,686.2 388.7,689.3 396.0,692.7 403.5,695.1 411.0,699.2 417.7,697.4 425.4,701.2 432.9,698.2 440.0,695.3 447.5,699.2 454.8,684.0 461.9,685.2 469.4,682.6 476.5,682.0 483.6,681.2 490.7,675.5 498.2,672.4 505.5,686.0 512.6,688.2 519.7,684.2 527.2,692.7 534.3,694.3 541.4,690.7 548.5,697.4 555.6,698.4 562.7,699.2 570.4,700.4 577.9,702.8 585.1,695.5 592.8,702.8 599.9,700.8 607.4,692.7 614.9,688.0 621.6,690.7 628.7,693.3 636.2,695.1 643.5,693.3 651.0,685.2 658.0,685.2 665.5,688.7 672.8,689.7 679.9,693.1 687.4,689.3 694.5,685.6 702.0,679.5 709.1,681.6 716.4,678.5 723.5,688.2 731.0,683.6 738.1,678.5 745.6,678.5 752.9,673.4 760.0,670.0 767.5,662.3 774.6,661.3 781.7,660.7 788.8,659.7 796.3,659.9 803.0,657.2 811.1,671.8 818.2,670.0 825.3,668.4 832.4,665.7 839.5,664.7 847.2,663.3 854.3,663.3 861.4,659.7 865.4,659.7 870.0,660.9 876.1,664.9 883.2,664.7 890.9,675.1 898.4,675.1 905.5,672.4 912.6,673.4 920.1,677.9 927.8,673.4 934.9,677.1 942.4,688.0 949.7,689.1 957.2,689.1 963.9,686.2 971.0,680.5 978.5,679.1 985.5,690.3 993.0,682.6 1000.3,684.2 1007.8,682.0 1014.9,676.1 1022.0,673.4 1029.1,678.1 1036.6,671.4 1044.3,674.5 1051.4,677.5 1058.5,676.1 1065.6,677.9 1073.3,675.5 1080.8,676.5 1087.5,684.0 1095.0,687.2 1102.1,686.6 1109.8,703.5 1116.9,707.3 1124.4,705.3 1131.5,706.5 1138.0,710.5"/>
<text x="6.5" y="647.4" fill="#000" stroke="#000">RSI(14) 36.1564</text>
<text x="1445" y="645.5" fill="#000" stroke="#000">100</text>
<text x="1445" y="663.8" fill="#000" stroke="#000">80</text>
<text x="1445" y="697.8" fill="#000" stroke="#000">50</text>
<text x="1445" y="732.8" fill="#000" stroke="#000">20</text>
<text x="1445" y="749.8" fill="#000" stroke="#000">0</text>
<g shape-rendering="crispEdges">
<rect x="1441" y="638" width="2" height="1" fill="#000"/>
<rect x="1441" y="660" width="2" height="1" fill="#000"/>
<rect x="1441" y="695" width="2" height="1" fill="#000"/>
<rect x="1441" y="730" width="2" height="1" fill="#000"/>
<rect x="1441" y="752" width="2" height="1" fill="#000"/>
</g>
<g shape-rendering="crispEdges">
<rect x="3" y="754" width="1" height="3" fill="#000"/>
<rect x="61" y="754" width="1" height="3" fill="#000"/>
<rect x="119" y="754" width="1" height="3" fill="#000"/>
<rect x="177" y="754" width="1" height="3" fill="#000"/>
<rect x="236" y="754" width="1" height="3" fill="#000"/>
<rect x="294" y="754" width="1" height="3" fill="#000"/>
<rect x="352" y="754" width="1" height="3" fill="#000"/>
<rect x="410" y="754" width="1" height="3" fill="#000"/>
<rect x="469" y="754" width="1" height="3" fill="#000"/>
<rect x="527" y="754" width="1" height="3" fill="#000"/>
<rect x="585" y="754" width="1" height="3" fill="#000"/>
<rect x="643" y="754" width="1" height="3" fill="#000"/>
<rect x="701" y="754" width="1" height="3" fill="#000"/>
<rect x="760" y="754" width="1" height="3" fill="#000"/>
<rect x="818" y="754" width="1" height="3" fill="#000"/>
<rect x="876" y="754" width="1" height="3" fill="#000"/>
<rect x="934" y="754" width="1" height="3" fill="#000"/>
<rect x="993" y="754" width="1" height="3" fill="#000"/>
<rect x="1051" y="754" width="1" height="3" fill="#000"/>
<rect x="1109" y="754" width="1" height="3" fill="#000"/>
</g>
<text x="2.3" y="764" fill="#000" stroke="#000">29 Mar 2018</text>
<text x="60.5" y="764" fill="#000" stroke="#000">30 Mar 12:00</text>
<text x="118.7" y="764" fill="#000" stroke="#000">2 Apr 20:00</text>
<text x="177.0" y="764" fill="#000" stroke="#000">4 Apr 04:00</text>
<text x="235.2" y="764" fill="#000" stroke="#000">5 Apr 12:00</text>
<text x="293.4" y="764" fill="#000" stroke="#000">6 Apr 20:00</text>
<text x="351.6" y="764" fill="#000" stroke="#000">10 Apr 04:00</text>
<text x="409.8" y="764" fill="#000" stroke="#000">11 Apr 12:00</text>
<text x="468.1" y="764" fill="#000" stroke="#000">12 Apr 20:00</text>
<text x="526.3" y="764" fill="#000" stroke="#000">16 Apr 04:00</text>
<text x="584.5" y="764" fill="#000" stroke="#000">17 Apr 12:00</text>
<text x="642.7" y="764" fill="#000" stroke="#000">18 Apr 20:00</text>
<text x="700.9" y="764" fill="#000" stroke="#000">20 Apr 04:00</text>
<text x="759.2" y="764" fill="#000" stroke="#000">23 Apr 12:00</text>
<text x="817.4" y="764" fill="#000" stroke="#000">24 Apr 20:00</text>
<text x="875.6" y="764" fill="#000" stroke="#000">26 Apr 04:00</text>
<text x="933.8" y="764" fill="#000" stroke="#000">27 Apr 12:00</text>
<text x="992.0" y="764" fill="#000" stroke="#000">30 Apr 20:00</text>
<text x="1050.3" y="764" fill="#000" stroke="#000">2 May 04:00</text>
<text x="1108.5" y="764" fill="#000" stroke="#000">3 May 12:00</text>
</svg></body></html>
